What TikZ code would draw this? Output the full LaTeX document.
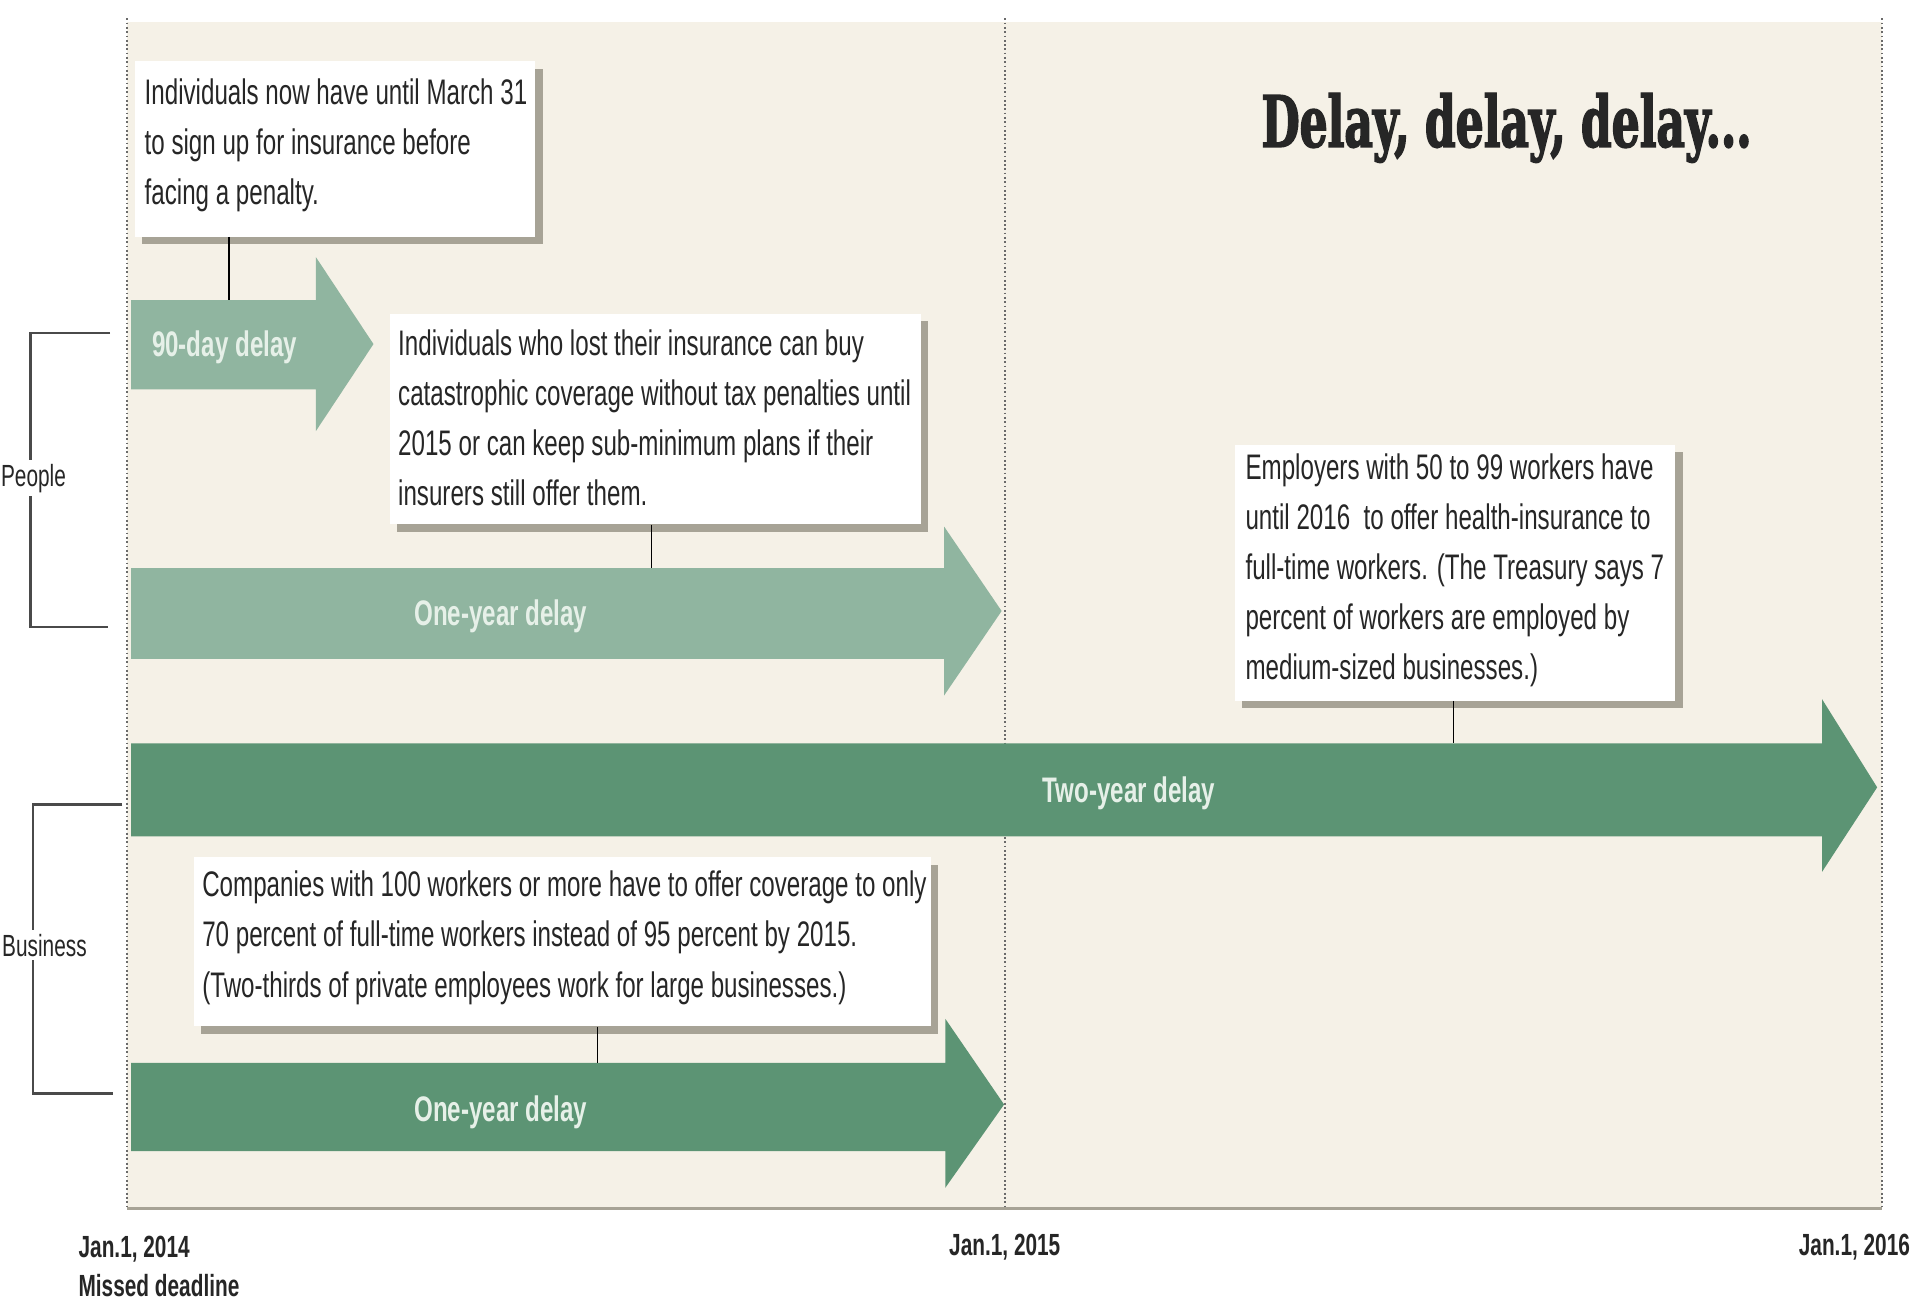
\documentclass[tikz,border=0pt]{standalone}
\usepackage{fontspec}
\setmainfont[FakeStretch=0.68]{Liberation Sans}
\newfontfamily\titlefont[FakeStretch=0.62,FakeBold=2]{DejaVu Serif}
\usetikzlibrary{shadows}
\definecolor{beige}{HTML}{F5F1E7}
\definecolor{lightgreen}{HTML}{90B5A0}
\definecolor{darkgreen}{HTML}{5C9474}
\definecolor{shadowc}{HTML}{A7A396}
\definecolor{textc}{HTML}{262626}
\definecolor{labelc}{HTML}{E6F0E8}
\definecolor{dotc}{HTML}{6A6A6A}
\definecolor{brackc}{HTML}{4A4A4A}
\tikzset{
  callout/.style={fill=white, draw=none, anchor=north west, inner sep=0pt,
    drop shadow={shadow xshift=6pt, shadow yshift=-6pt, opacity=1, fill=shadowc}},
  ctext/.style={anchor=north west, inner sep=0pt, align=left, text=textc,
    font=\fontsize{29}{41}\selectfont},
  arrowlabel/.style={inner sep=0pt, text=labelc, font=\fontsize{29}{34}\selectfont\bfseries},
  datelabel/.style={inner sep=0pt, text=textc, font=\fontsize{25}{32}\selectfont\bfseries},
  grouplabel/.style={inner sep=3pt, fill=white, text=textc, font=\fontsize{25}{30}\selectfont},
  conn/.style={draw=black, line width=1.5pt},
  bracket/.style={draw=brackc, line width=2pt},
  dotline/.style={draw=dotc, line width=1.5pt, dash pattern=on 1.5pt off 2pt}
}
\begin{document}
\begin{tikzpicture}[x=1pt,y=-1pt]
\useasboundingbox (0,0) rectangle (1568,1062.5);
\fill[white] (0,0) rectangle (1568,1062.5);
% panel
\fill[beige] (104,18) rectangle (1537,987);
\draw[draw=shadowc, line width=2pt] (104,987) -- (1537,987);
% dotted time lines
\draw[dotline] (104,15) -- (104,987);
\draw[dotline] (821,15) -- (821,987);
\draw[dotline] (1537,15) -- (1537,987);

% arrows
\fill[lightgreen] (107,245) -- (258,245) -- (258,210) -- (305,281) -- (258,352) -- (258,318) -- (107,318) -- cycle;
\coordinate (a1top) at (187,245);
\fill[lightgreen] (107,464) -- (771,464) -- (771,430) -- (818,499) -- (771,568) -- (771,538) -- (107,538) -- cycle;
\coordinate (a2top) at (532,464);
\fill[darkgreen] (107,607) -- (1488,607) -- (1488,571) -- (1533,643) -- (1488,712) -- (1488,683) -- (107,683) -- cycle;
\coordinate (a3top) at (1187,607);
\fill[darkgreen] (107,868) -- (772,868) -- (772,832) -- (820,902) -- (772,970) -- (772,940) -- (107,940) -- cycle;
\coordinate (a4top) at (488,868);

\node[arrowlabel, anchor=base west] (l1) at (124,291) {90-day delay};
\node[arrowlabel, anchor=base] (l2) at (409,511) {One-year delay};
\node[arrowlabel, anchor=base] (l3) at (922,655) {Two-year delay};
\node[arrowlabel, anchor=base] (l4) at (409,916) {One-year delay};

% callout boxes
\node[callout, minimum width=327pt, minimum height=143pt] (b1) at (110,50) {};
\node[ctext] (t1) at (118,64) {Individuals now have until March 31\\to sign up for insurance before\\facing a penalty.};
\node[callout, minimum width=434pt, minimum height=172pt] (b2) at (318,256) {};
\node[ctext] (t2) at (325,269) {Individuals who lost their insurance can buy\\catastrophic coverage without tax penalties until\\2015 or can keep sub-minimum plans if their\\insurers still offer them.};
\node[callout, minimum width=360pt, minimum height=209pt] (b3) at (1008,363) {};
\node[ctext] (t3) at (1017,370) {Employers with 50 to 99 workers have\\until 2016\ \ to offer health-insurance to\\full-time workers. (The Treasury says 7\\percent of workers are employed by\\medium-sized businesses.)};
\node[callout, minimum width=602pt, minimum height=138pt] (b4) at (158,700) {};
\node[ctext] (t4) at (165,711) {Companies with 100 workers or more have to offer coverage to only\\70 percent of full-time workers instead of 95 percent by 2015.\\(Two-thirds of private employees work for large businesses.)};

% connectors
\draw[conn] (b1.south -| a1top) -- (a1top);
\draw[conn] (b2.south -| a2top) -- (a2top);
\draw[conn] (b3.south -| a3top) -- (a3top);
\draw[conn] (b4.south -| a4top) -- (a4top);

% brackets
\draw[bracket] (90,272) -- (25,272) -- (25,512) -- (88,512);
\draw[bracket] (100,657) -- (27,657) -- (27,893) -- (92,893);
\node[grouplabel, anchor=base east] (people) at (57,397) {People};
\node[grouplabel, anchor=base east] (business) at (74,781) {Business};

% title
\node[anchor=base west, inner sep=0pt, text=textc, font=\fontsize{58}{60}\selectfont\titlefont\bfseries] (title) at (1030,120) {Delay, delay, delay...};

% dates
\node[datelabel, anchor=base west] (d1) at (64,1027) {Jan.1, 2014};
\node[datelabel, anchor=base west] (d1b) at (64,1059) {Missed deadline};
\node[datelabel, anchor=base west] (d2) at (775,1025) {Jan.1, 2015};
\node[datelabel, anchor=base east] (d3) at (1560,1025) {Jan.1, 2016};
\end{tikzpicture}
\end{document}
